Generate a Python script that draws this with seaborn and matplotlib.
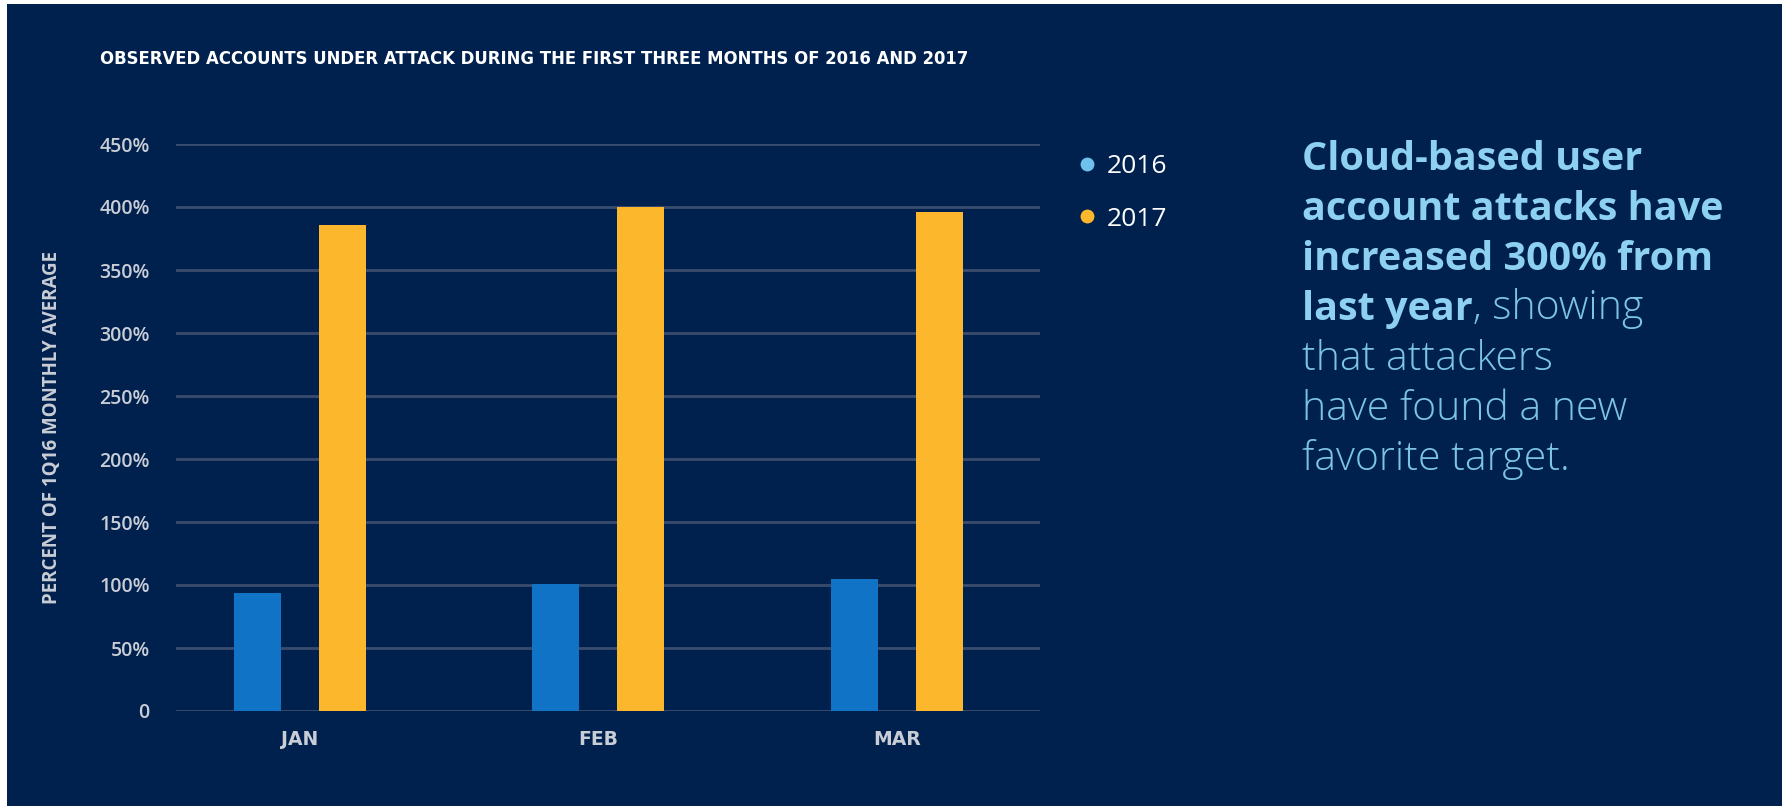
import numpy as np
import pandas as pd
import seaborn as sns
import matplotlib.pyplot as plt
from matplotlib.lines import Line2D
from matplotlib.patches import Rectangle
from matplotlib.ticker import FuncFormatter

months = ["JAN", "FEB", "MAR"]
years = ["2016", "2017"]
values_2016 = [94, 101, 105]
values_2017 = [386, 400, 396]
y_ticks = [0, 50, 100, 150, 200, 250, 300, 350, 400, 450]

bg = "#00204E"
bar_colors = {"2016": "#1173C5", "2017": "#FDB72D"}
legend_colors = ["#6EC1EA", "#FDB72D"]
tick_color = "#C9CDD6"
grid_color = "#3A4C6E"

df = pd.DataFrame({
    "month": months * 2,
    "year": ["2016"] * 3 + ["2017"] * 3,
    "value": values_2016 + values_2017,
})

sns.set_theme(style="white")
plt.rcParams['font.family'] = ['Open Sans', 'DejaVu Sans']

W, H = 1783, 806
fig = plt.figure(figsize=(W / 100, H / 100), dpi=100, facecolor="white")
# dark panel with a thin white strip on the left and top
fig.patches.append(Rectangle((7 / W, 0), 1, 1 - 4 / H, transform=fig.transFigure,
                             facecolor=bg, edgecolor="none", zorder=-5))

ax = fig.add_axes([176 / W, 1 - 711 / H, (1040 - 176) / W, (711 - 144) / H])
ax.set_facecolor(bg)

sns.barplot(data=df, x="month", y="value", hue="year", palette=bar_colors,
            saturation=1, width=0.57, gap=0.45, linewidth=0, legend=False,
            ax=ax, zorder=3)

ax.set_xlim(-0.415, 2.48)
ax.set_ylim(0, 450)
ax.set_yticks(y_ticks)
ax.yaxis.set_major_formatter(FuncFormatter(lambda v, p: "0" if v == 0 else f"{int(v)}%"))
ax.grid(axis="y", color=grid_color, linewidth=2, zorder=0)
ax.set_axisbelow(True)
for s in ax.spines.values():
    s.set_visible(False)
ax.tick_params(axis="both", length=0)
ax.tick_params(axis="y", pad=19, labelsize=14, labelcolor=tick_color)
ax.tick_params(axis="x", pad=14, labelsize=13.5, labelcolor=tick_color)
for lab in ax.get_yticklabels():
    lab.set_fontweight("semibold")
for lab in ax.get_xticklabels():
    lab.set_fontweight("bold")
    lab.set_family(["DejaVu Sans"])
ax.set_xlabel("")
ax.set_ylabel("")

fig.text(52 / W, 1 - 427 / H, "PERCENT OF 1Q16 MONTHLY AVERAGE", rotation=90,
         ha="center", va="center", fontsize=13.5, fontweight="bold", color=tick_color)

fig.text(100 / W, 1 - 59 / H,
         "OBSERVED ACCOUNTS UNDER ATTACK DURING THE FIRST THREE MONTHS OF 2016 AND 2017",
         ha="left", va="center", fontsize=11.9, fontweight="bold", color="white",
         family=["DejaVu Sans"])

handles = [Line2D([], [], marker="o", linestyle="", markersize=10,
                  markerfacecolor=c, markeredgecolor="none") for c in legend_colors]
leg = fig.legend(handles, years, loc="upper left", bbox_to_anchor=(1078 / W, 1 - 154 / H),
                 frameon=False, fontsize=19, labelcolor="white", handlelength=0.7,
                 handletextpad=0.4, labelspacing=1.05, borderpad=0, borderaxespad=0)

bold_c = "#8DD0F0"
light_c = "#7CC4E6"
x0 = 1302 / W
bold_lines = ["Cloud-based user", "account attacks have", "increased 300% from"]
light_lines = ["that attackers", "have found a new", "favorite target."]
base = 170
step = 50
for i, s in enumerate(bold_lines):
    fig.text(x0, 1 - (base + step * i) / H, s, ha="left", va="baseline",
             fontsize=28.5, fontweight="bold", color=bold_c)
t = fig.text(x0, 1 - (base + step * 3) / H, "last year", ha="left", va="baseline",
             fontsize=28.5, fontweight="bold", color=bold_c)
ax.annotate(", showing", xy=(1, 0), xycoords=t, ha="left", va="bottom",
            fontsize=29.5, fontweight="light", color=light_c, annotation_clip=False)
for i, s in enumerate(light_lines):
    fig.text(x0, 1 - (base + step * (4 + i)) / H, s, ha="left", va="baseline",
             fontsize=29.5, fontweight="light", color=light_c)

fig.savefig("out.png", dpi=100, facecolor=fig.get_facecolor())
